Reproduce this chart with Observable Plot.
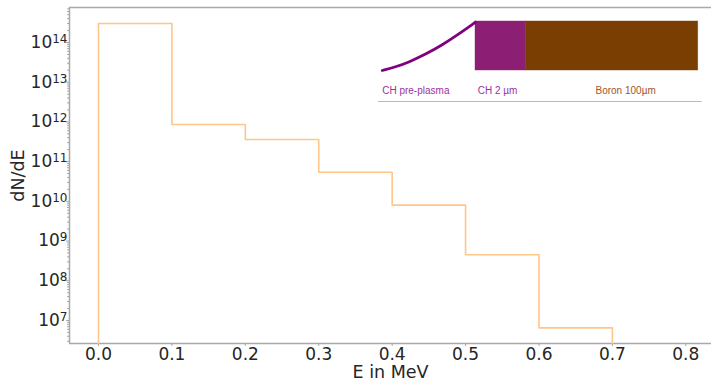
<!DOCTYPE html>
<html><head><meta charset="utf-8">
<script src="https://cdn.jsdelivr.net/npm/d3@7"></script>
<script src="https://cdn.jsdelivr.net/npm/@observablehq/plot@0.6"></script>
<style>
body{margin:0;background:#fff}
#wrap{position:relative;width:711px;height:382px;overflow:hidden}
#wrap svg{position:absolute}
</style>
</head><body><div id="wrap"></div>
<script>
// ---- main chart data ----
const E_EDGES = [0.0, 0.1, 0.2, 0.3, 0.4, 0.5, 0.6, 0.7];
const DNDE = [3.0e14, 8.6e11, 3.6e11, 5.4e10, 8.0e9, 4.5e8, 6.5e6];
const X_DOMAIN = [-0.0395, 0.835];
const Y_DOMAIN = [Math.pow(10, 6.42), Math.pow(10, 14.88)];
const X_TICKS = [0.0, 0.1, 0.2, 0.3, 0.4, 0.5, 0.6, 0.7, 0.8];
const Y_TICKS = [1e7, 1e8, 1e9, 1e10, 1e11, 1e12, 1e13, 1e14];
const X_LABEL = "E in MeV";
const Y_LABEL = "dN/dE";

// ---- inset (target schematic) data, schematic units ----
const PRE_X = [11.7, 25, 38.3, 55, 71.7, 88.3, 105];
const PRE_Y = [60, 56.5, 51.7, 43.8, 34.5, 23.5, 11.7];
const LAYER_X0 = [105, 155.7];
const LAYER_X1 = [155.7, 327.7];
const LAYER_COLORS = ["#8c1e74", "#7a3d02"];
const LAYER_TOP = 11, LAYER_BOTTOM = 60;
const INSET_LABELS = ["CH pre-plasma", "CH 2 µm", "Boron 100µm"];
const INSET_LABEL_X = [11.7, 107.3, 225];
const INSET_LABEL_COLORS = ["#9b32a0", "#9b32a0", "#a0562a"];
const INSET_LABEL_Y = 80;
const SEP_X = [8, 331.7], SEP_Y = 91;

// derived step outline
const step = [{x: E_EDGES[0], y: Y_DOMAIN[0]}];
DNDE.forEach((v, i) => { step.push({x: E_EDGES[i], y: v}); step.push({x: E_EDGES[i + 1], y: v}); });
step.push({x: E_EDGES[E_EDGES.length - 1], y: Y_DOMAIN[0]});

const minor = [];
for (let k = 6; k <= 14; k++) for (let m = 2; m <= 9; m++) {
  const v = m * Math.pow(10, k);
  if (v > Y_DOMAIN[0] && v < Y_DOMAIN[1]) minor.push(v);
}

const spine = "#a8a8a8";
const main = Plot.plot({
  width: 711, height: 382,
  marginLeft: 69, marginTop: 7, marginRight: 0, marginBottom: 39,
  style: {fontFamily: "DejaVu Sans", fontSize: "17px", color: "#262626", background: "#fff"},
  x: {domain: X_DOMAIN},
  y: {type: "log", domain: Y_DOMAIN},
  marks: [
    Plot.axisY(minor, {tickSize: 2, text: null, stroke: spine, label: null}),
    Plot.axisY(Y_TICKS, {tickSize: 3, tickPadding: -1, stroke: spine, label: null,
      tickFormat: d => "10^" + Math.round(Math.log10(d))}),
    Plot.axisX(X_TICKS, {tickSize: 3, tickPadding: 1, stroke: spine, label: null,
      tickFormat: d3.format(".1f")}),
    Plot.ruleX([X_DOMAIN[0]], {stroke: spine, strokeWidth: 1.5}),
    Plot.ruleY([Y_DOMAIN[0]], {stroke: spine, strokeWidth: 1.5}),
    Plot.ruleY([Y_DOMAIN[1]], {stroke: spine, strokeWidth: 1.5}),
    Plot.line(step, {x: "x", y: "y", stroke: "#ffc68a", strokeWidth: 1.6}),
    Plot.text([X_LABEL], {frameAnchor: "bottom", lineAnchor: "middle", dy: 29, text: d => d, fontSize: 17.5, fill: "#262626"}),
    Plot.text([Y_LABEL], {frameAnchor: "left", textAnchor: "middle", lineAnchor: "middle", dx: -51, rotate: -90, text: d => d, fontSize: 17.5, fill: "#262626"})
  ]
});

// superscripts for y tick labels
main.querySelectorAll('g[aria-label="y-axis tick label"] text').forEach(t => {
  const s = t.textContent;
  if (!s.includes("^")) return;
  const [base, exp] = s.split("^");
  while (t.firstChild) t.removeChild(t.firstChild);
  const ns = "http://www.w3.org/2000/svg";
  const a = document.createElementNS(ns, "tspan"); a.textContent = base; t.appendChild(a);
  const b = document.createElementNS(ns, "tspan"); b.textContent = exp;
  b.setAttribute("dy", "-0.42em"); b.setAttribute("font-size", "12px"); t.appendChild(b);
});

main.style.left = "0px"; main.style.top = "0px";
document.getElementById("wrap").appendChild(main);

// inset schematic
const pre = PRE_X.map((x, i) => ({x, y: PRE_Y[i]}));
const layers = LAYER_X0.map((x0, i) => ({x0, x1: LAYER_X1[i], c: LAYER_COLORS[i]}));
const labels = INSET_LABELS.map((t, i) => ({t, x: INSET_LABEL_X[i], c: INSET_LABEL_COLORS[i]}));
const inset = Plot.plot({
  width: 340, height: 100,
  margin: 0,
  style: {background: "transparent", fontFamily: "Liberation Sans", overflow: "visible"},
  x: {domain: [0, 340], range: [0, 340], axis: null},
  y: {domain: [0, 100], range: [0, 100], axis: null},
  marks: [
    Plot.rect(layers, {x1: "x0", x2: "x1", y1: LAYER_TOP, y2: LAYER_BOTTOM, fill: "c", stroke: "c", strokeOpacity: 0.5, strokeWidth: 0.8}),
    Plot.line(pre, {x: "x", y: "y", stroke: "#800080", strokeWidth: 2.8, curve: "basis"}),
    Plot.text(labels, {x: "x", y: INSET_LABEL_Y, text: "t", fill: "c", textAnchor: "start", fontSize: 10}),
    Plot.ruleY([SEP_Y], {x1: SEP_X[0], x2: SEP_X[1], stroke: "#bbb", strokeWidth: 1})
  ]
});
inset.style.left = "370px"; inset.style.top = "10px";
document.getElementById("wrap").appendChild(inset);
</script></body></html>
